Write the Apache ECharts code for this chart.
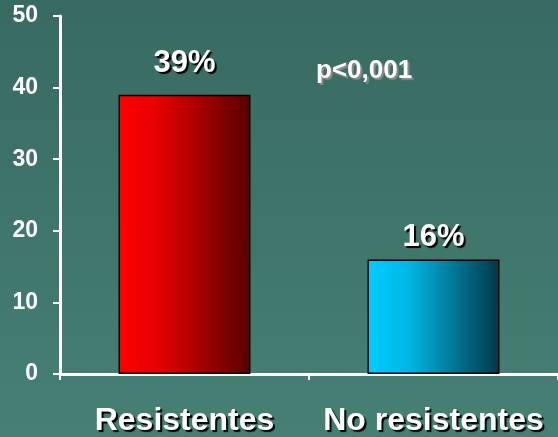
<!DOCTYPE html>
<html>
<head>
<meta charset="utf-8">
<script src="https://cdn.jsdelivr.net/npm/echarts@6/dist/echarts.min.js"></script>
<style>
  html, body { margin: 0; padding: 0; }
  #chart { width: 558px; height: 437px; }
</style>
</head>
<body>
<div id="chart"></div>
<script>
// Percentage of patients by group
var categories = ['Resistentes', 'No resistentes'];
var values = [39, 16];
var yTicks = [0, 10, 20, 30, 40, 50];
var pValueText = 'p<0,001';

var barFills = [
  new echarts.graphic.LinearGradient(0, 0, 1, 0, [
    { offset: 0, color: '#ff0000' },
    { offset: 0.3, color: '#e60000' },
    { offset: 1, color: '#580000' }
  ]),
  new echarts.graphic.LinearGradient(0, 0, 1, 0, [
    { offset: 0, color: '#00ccff' },
    { offset: 0.3, color: '#00b8e6' },
    { offset: 1, color: '#003848' }
  ])
];
// gap between each bar top and its value label
var labelGaps = [16, 6];

var chart = echarts.init(document.getElementById('chart'), null, { renderer: 'canvas' });

var shadowText = {
  color: '#ffffff',
  fontFamily: 'Liberation Sans, Arial, sans-serif',
  fontWeight: 'bold',
  textShadowColor: '#000000',
  textShadowOffsetX: 2,
  textShadowOffsetY: 2,
  textShadowBlur: 1
};

chart.setOption({
  animation: false,
  backgroundColor: new echarts.graphic.LinearGradient(0, 0, 0, 1, [
    { offset: 0, color: '#386a61' },
    { offset: 1, color: '#468075' }
  ]),
  grid: { left: 60, right: -2, top: 16, bottom: 62, containLabel: false },
  xAxis: {
    type: 'category',
    data: categories,
    axisLine: { lineStyle: { color: '#ffffff', width: 3 } },
    axisTick: { show: true, length: 6, lineStyle: { color: '#ffffff', width: 2 } },
    axisLabel: Object.assign({ fontSize: 32, margin: 31, interval: 0 }, shadowText)
  },
  yAxis: {
    type: 'value',
    min: yTicks[0],
    max: yTicks[yTicks.length - 1],
    interval: 10,
    splitLine: { show: false },
    axisLine: { show: true, lineStyle: { color: '#ffffff', width: 3 } },
    axisTick: { show: true, length: 7, lineStyle: { color: '#ffffff', width: 2 } },
    axisLabel: {
      color: '#ffffff',
      fontFamily: 'Liberation Sans, Arial, sans-serif',
      fontWeight: 'bold',
      fontSize: 23,
      margin: 22
    }
  },
  series: [{
    type: 'bar',
    barWidth: '53%',
    data: values.map(function (v, i) {
      return {
        value: v,
        itemStyle: { color: barFills[i] },
        label: { distance: labelGaps[i] }
      };
    }),
    itemStyle: { borderColor: '#000000', borderWidth: 1.5 },
    label: Object.assign({
      show: true,
      position: 'top',
      fontSize: 31,
      formatter: '{c}%'
    }, shadowText),
    z: 1
  }],
  graphic: [{
    type: 'text',
    left: 316,
    top: 58,
    style: {
      text: pValueText,
      fill: '#ffffff',
      font: 'bold 26px "Liberation Sans", Arial, sans-serif',
      textShadowColor: '#8a8a8a',
      textShadowOffsetX: 2,
      textShadowOffsetY: 2,
      textShadowBlur: 1
    }
  }]
});
</script>
</body>
</html>
